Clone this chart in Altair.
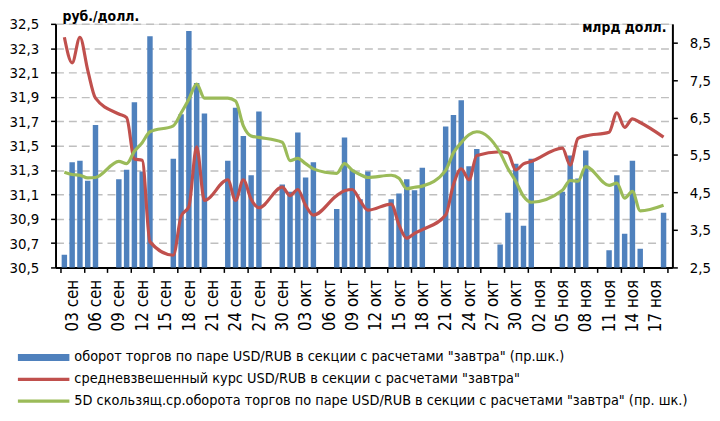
import altair as alt
import pandas as pd

# trading days, counted in calendar days from 03 Sep
days = [0, 1, 2, 3, 4, 7, 8, 9, 10, 11, 14, 15, 16, 17, 18, 21, 22, 23, 24, 25,
        28, 29, 30, 31, 32, 35, 36, 37, 38, 39, 42, 43, 44, 45, 46, 49, 50, 51, 52, 53,
        56, 57, 58, 59, 60, 64, 65, 66, 67, 70, 71, 72, 73, 74, 77]

# turnover, bn USD (right axis)
turnover = [2.84, 5.31, 5.35, 4.81, 6.30, 4.85, 5.11, 6.91, 5.06, 8.67,
            5.40, 6.59, 8.81, 7.42, 6.61, 5.35, 6.76, 6.01, 4.96, 6.66,
            4.71, 4.52, 6.10, 4.90, 5.31, 4.06, 5.97, 5.11, 4.32, 5.06,
            4.32, 4.47, 4.85, 4.56, 5.16, 6.26, 6.57, 6.96, 5.20, 5.66,
            3.11, 3.96, 5.27, 3.61, 5.40, 4.52, 5.49, 4.87, 5.62,
            2.96, 4.96, 3.40, 5.35, 3.00, 3.96]

# weighted average rate, RUB/USD (left axis)
rate = [32.39, 32.18, 32.39, 32.12, 31.89, 31.76, 31.73, 31.39, 31.38, 30.71,
        30.60, 30.92, 31.00, 31.49, 31.05, 31.22, 31.05, 31.22, 31.06, 30.99,
        31.16, 31.09, 31.14, 31.01, 30.93, 31.09, 31.13, 31.14, 31.05, 30.97,
        31.02, 30.85, 30.74, 30.78, 30.81, 30.93, 31.18, 31.31, 31.22, 31.42,
        31.45, 31.44, 31.30, 31.35, 31.37, 31.48, 31.34, 31.56, 31.58,
        31.61, 31.77, 31.65, 31.72, 31.69, 31.57]

# 5-day moving average of turnover (right axis)
ma5 = [5.04, 4.98, 4.96, 4.89, 4.90, 5.33, 5.27, 5.60, 5.83, 6.12,
       6.28, 6.62, 6.99, 7.39, 7.02, 7.02, 6.94, 6.28, 6.01, 5.97,
       5.84, 5.35, 5.41, 5.27, 5.13, 5.01, 5.27, 5.09, 4.98, 4.90,
       4.96, 4.88, 4.60, 4.64, 4.67, 5.09, 5.56, 5.83, 6.04, 6.12,
       5.56, 5.14, 4.80, 4.40, 4.24, 4.56, 4.82, 4.80, 5.19,
       4.69, 4.75, 4.35, 4.53, 4.01, 4.16]

x_labels = ["03 сен", "06 сен", "09 сен", "12 сен", "15 сен", "18 сен", "21 сен",
            "24 сен", "27 сен", "30 сен", "03 окт", "06 окт", "09 окт", "12 окт",
            "15 окт", "18 окт", "21 окт", "24 окт", "27 окт", "30 окт", "02 ноя",
            "05 ноя", "08 ноя", "11 ноя", "14 ноя", "17 ноя"]

left_ticks = [30.5, 30.7, 30.9, 31.1, 31.3, 31.5, 31.7, 31.9, 32.1, 32.3, 32.5]
right_ticks = [2.5, 3.5, 4.5, 5.5, 6.5, 7.5, 8.5]

series_names = [
    'оборот торгов по паре  USD/RUB  в секции  с расчетами "завтра"  (пр.шк.)',
    'средневзвешенный  курс  USD/RUB  в секции  с расчетами "завтра"',
    '5D скользящ.ср.оборота  торгов  по  паре  USD/RUB  в секции  с расчетами "завтра"  (пр. шк.)',
]
series_colors = ["#4F81BD", "#C0504D", "#9BBB59"]

df = pd.DataFrame({"day": days, "turnover": turnover, "rate": rate, "ma5": ma5})

FONT = "DejaVu Sans Condensed, DejaVu Sans, sans-serif"
label_js = "[" + ",".join("'" + s + "'" for s in x_labels) + "]"

X = alt.X(
    "xc:Q",
    scale=alt.Scale(domain=[0, 78], nice=False, zero=False),
    axis=alt.Axis(
        values=list(range(0, 79, 3)),
        labelExpr=label_js + "[datum.value / 3] || ''",
        labelAngle=270,
        labelOffset=12,
        labelPadding=7,
        labelOverlap=False,
        labelFlush=False,
        labelBound=False,
        labelFont=FONT,
        labelFontSize=17,
        labelColor="#000000",
        tickColor="#000000",
        tickSize=5,
        tickWidth=1.5,
        domainColor="#000000",
        domainWidth=2,
        grid=False,
        title=None,
    ),
)

comma = "replace(format(datum.value, '.1f'), '.', ',')"

left_scale = alt.Scale(domain=[30.5, 32.5], nice=False, zero=False)
right_scale = alt.Scale(domain=[2.5, 9.0], nice=False, zero=False)

left_axis = alt.Axis(
    orient="left", values=left_ticks, labelExpr=comma, title=None,
    labelFont=FONT, labelFontSize=15, labelColor="#000000", labelPadding=12,
    tickColor="#000000", tickSize=5, tickWidth=1.5,
    domainColor="#000000", domainWidth=2,
    grid=True, gridColor="#BFBFBF", gridDash=[8, 5], gridWidth=1.5,
)
right_axis = alt.Axis(
    orient="right", values=right_ticks, labelExpr=comma, title=None,
    labelFont=FONT, labelFontSize=15, labelColor="#000000", labelPadding=12,
    tickColor="#000000", tickSize=5, tickWidth=1.5,
    domainColor="#000000", domainWidth=2, grid=False,
)

base = alt.Chart(df).transform_calculate(xc="datum.day + 0.5")

bars = base.mark_bar(color=series_colors[0], size=5.5, clip=True).encode(
    x=X, y=alt.Y("turnover:Q", scale=right_scale, axis=right_axis)
)
red = base.mark_line(color=series_colors[1], strokeWidth=3.2, interpolate="monotone").encode(
    x=X, y=alt.Y("rate:Q", scale=left_scale, axis=left_axis)
)
green = base.mark_line(color=series_colors[2], strokeWidth=3.2, interpolate="monotone").encode(
    x=X, y=alt.Y("ma5:Q", scale=right_scale, axis=None)
)

legend_def = alt.Legend(
    title=None, orient="none", legendX=-22, legendY=327, direction="vertical",
    symbolSize=400, labelOffset=21, rowPadding=5, labelLimit=800,
    labelFont=FONT, labelFontSize=14.5, labelColor="#000000",
    symbolStrokeWidth=0, symbolOpacity=1,
)
shape_paths = [
    "M-2.6,-0.36L2.6,-0.36L2.6,0.36L-2.6,0.36Z",
    "M-2.6,-0.17L2.6,-0.17L2.6,0.17L-2.6,0.17Z",
    "M-2.6,-0.17L2.6,-0.17L2.6,0.17L-2.6,0.17Z",
]
legend_pts = base.transform_calculate(series="'" + series_names[0] + "'").transform_filter(
    "false"
).mark_point(filled=True, opacity=1).encode(
    x=X,
    y=alt.Y("ma5:Q", scale=right_scale, axis=None),
    color=alt.Color("series:N", scale=alt.Scale(domain=series_names, range=series_colors), legend=legend_def),
    shape=alt.Shape("series:N", scale=alt.Scale(domain=series_names, range=shape_paths), legend=legend_def),
)

title_l = alt.Chart(pd.DataFrame({"t": ["руб./долл."]})).mark_text(
    font=FONT, fontSize=14, fontWeight="bold", align="left", baseline="alphabetic", color="#000000"
).encode(text="t:N", x=alt.value(7), y=alt.value(-3))
title_r = alt.Chart(pd.DataFrame({"t": ["млрд долл."]})).mark_text(
    font=FONT, fontSize=14, fontWeight="bold", align="right", baseline="alphabetic", color="#000000"
).encode(text="t:N", x=alt.value(617), y=alt.value(8))

chart = alt.layer(bars, red, green, legend_pts, title_l, title_r).resolve_scale(
    y="independent"
).properties(
    width=623, height=246,
    autosize=alt.AutoSizeParams(type="none"),
    padding={"left": 48, "top": 14, "right": 40, "bottom": 145},
).configure_view(stroke=None).configure(background="#FFFFFF")

chart.save("out.html", embed_options={"renderer": "svg", "actions": False})
